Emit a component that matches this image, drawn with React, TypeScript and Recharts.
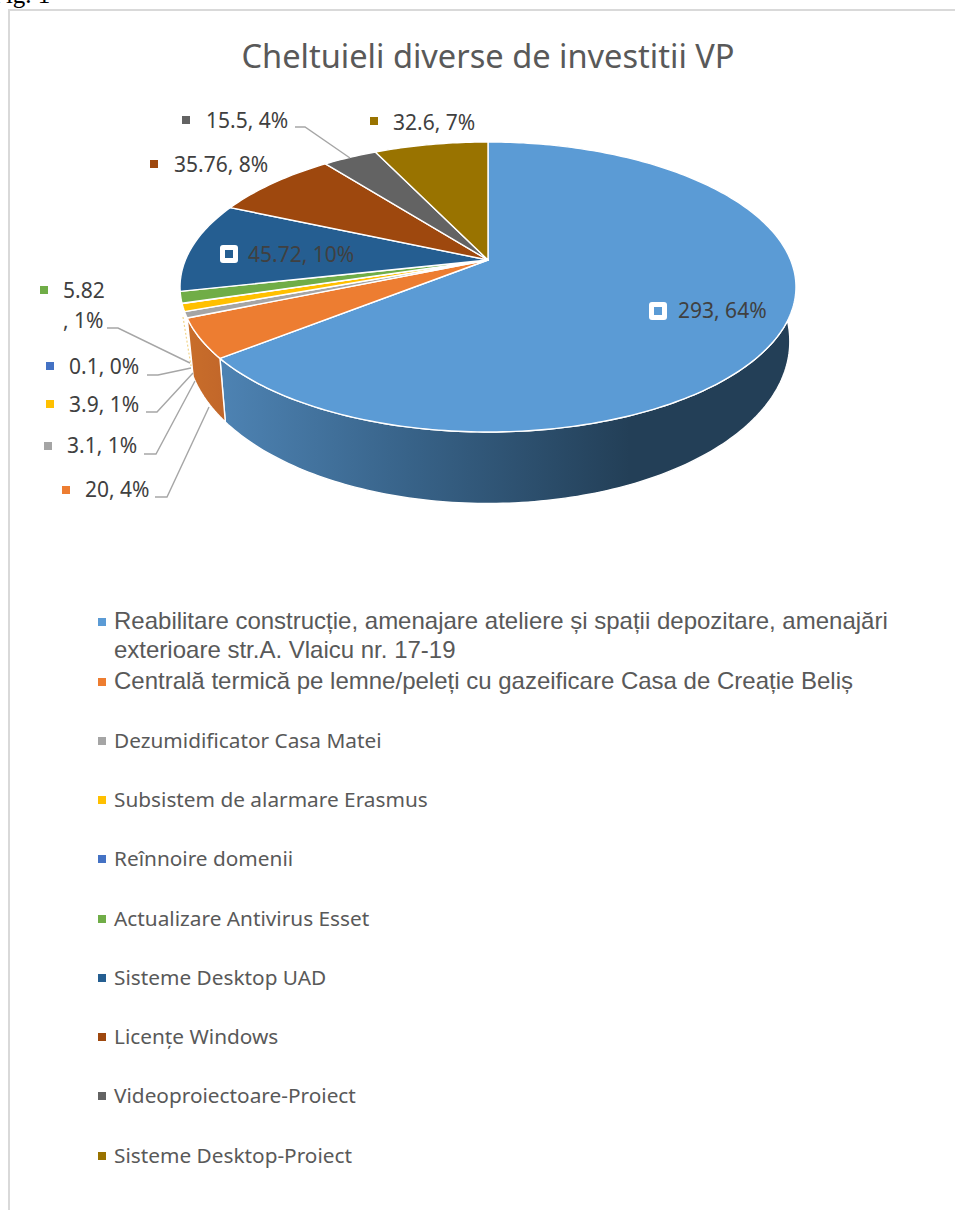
import { Legend, Pie, PieChart } from 'recharts';

const categories = [
  'Reabilitare construcție, amenajare ateliere și spații depozitare, amenajări exterioare str.A. Vlaicu nr. 17-19',
  'Centrală termică pe lemne/peleți cu gazeificare Casa de Creație Beliș',
  'Dezumidificator Casa Matei',
  'Subsistem de alarmare Erasmus',
  'Reînnoire domenii',
  'Actualizare Antivirus Esset',
  'Sisteme Desktop UAD',
  'Licențe Windows',
  'Videoproiectoare-Proiect',
  'Sisteme Desktop-Proiect',
];
const values = [293, 20, 3.1, 3.9, 0.1, 5.82, 45.72, 35.76, 15.5, 32.6];
const percentLabels = ['64%', '4%', '1%', '1%', '0%', '1%', '10%', '8%', '4%', '7%'];
const colors = ['#5B9BD5', '#ED7D31', '#A5A5A5', '#FFC000', '#4472C4', '#70AD47', '#255E91', '#9E480E', '#636363', '#997300'];
const wallFills = ['url(#wallBlue)', 'url(#wallOrange)', null, null, null, null, null, null, null, null];

const rows = categories.map((name, i) => ({
  name,
  value: values[i],
  fill: colors[i],
  wall: wallFills[i],
  pct: percentLabels[i],
  order: i,
}));

// where each data label sits: marker box, text start, baseline, leader line
const labelLayout = [
  { mx: 658, my: 311, tx: 678, ty: 318, boxed: true },
  { mx: 66, my: 490, tx: 85, ty: 497, leader: '155,497 167,497 209,407' },
  { mx: 48, my: 446, tx: 67, ty: 453, leader: '144,454 156,454 195,381' },
  { mx: 50, my: 404, tx: 69, ty: 412, leader: '146,412 157,412 193,373' },
  { mx: 50, my: 366, tx: 69, ty: 374, leader: '147,375 158,375 191,368' },
  { mx: 44, my: 290, tx: 63, ty: 298, leader: '107,328 118,328 190,363', wrap: 328 },
  { mx: 229, my: 254, tx: 248, ty: 262, boxed: true },
  { mx: 154, my: 164, tx: 174, ty: 172 },
  { mx: 186, my: 120, tx: 206, ty: 128, leader: '295,127 305,127 350,158' },
  { mx: 374, my: 121, tx: 393, ty: 130 },
];

const labelFont = '"Noto Sans", sans-serif';

// the tilted disc: turns an angle of the pie into a point on the page
const FAR = 140 / 302.6;
const TILT = 0.186;
function project(cx: number, cy: number, r: number, angle: number) {
  const t = ((90 - angle) * Math.PI) / 180;
  const X = Math.sin(t);
  const Y = Math.cos(t);
  const d = 1 + TILT * Y;
  return { x: cx + (r * X) / d, y: cy - (r * FAR * Y) / d, Y };
}

function arc(cx: number, cy: number, r: number, from: number, to: number) {
  const steps = Math.max(2, Math.ceil(Math.abs(from - to)));
  const pts = [];
  for (let i = 0; i <= steps; i++) pts.push(project(cx, cy, r, from + ((to - from) * i) / steps));
  return pts;
}

function TopSector(p: any) {
  const pts = arc(p.cx, p.cy, p.outerRadius, p.startAngle, p.endAngle);
  const d = `M${p.cx},${p.cy} ` + pts.map((q) => `L${q.x},${q.y}`).join(' ') + ' Z';
  return <path d={d} fill={p.fill} stroke="#fff" strokeWidth={1.4} strokeLinejoin="round" />;
}

function WallSector(p: any) {
  const top = arc(p.cx, p.cy, p.outerRadius, p.startAngle, p.endAngle);
  if (!p.wall) {
    if (p.order !== 3) return <g />;
    return (
      <line x1={183} y1={317} x2={191} y2={366} stroke="#F2D58A" strokeWidth={1.2} strokeDasharray="2 2" />
    );
  }
  const bottom = top
    .map((q) => ({
      x: p.cx + (q.x - p.cx) * 0.98,
      y: q.y + 50.5 - 21 * q.Y,
    }))
    .reverse();
  const d = [...top, ...bottom].map((q, i) => `${i ? 'L' : 'M'}${q.x},${q.y}`).join(' ') + ' Z';
  return <path d={d} fill={p.wall} stroke="#fff" strokeWidth={1.4} strokeLinejoin="round" />;
}

function DataLabel(p: any) {
  const row = p.payload ?? p;
  const at = labelLayout[row.order];
  const text = `${row.value}, ${row.pct}`;
  return (
    <g>
      {at.leader && <polyline points={at.leader} fill="none" stroke="#A6A6A6" strokeWidth={1.4} />}
      {at.boxed && <rect x={at.mx - 9} y={at.my - 9} width={18} height={18} rx={3} fill="#fff" />}
      <rect x={at.mx - 4} y={at.my - 4} width={8} height={8} fill={row.fill} />
      {at.wrap ? (
        <text fontFamily={labelFont} fontSize={21} fill="#404040">
          <tspan x={at.tx} y={at.ty}>{String(row.value)}</tspan>
          <tspan x={at.tx} y={at.wrap}>, {row.pct}</tspan>
        </text>
      ) : (
        <text x={at.tx} y={at.ty} fontFamily={labelFont} fontSize={21} fill="#404040">
          {text}
        </text>
      )}
    </g>
  );
}

const legendTops = [606, 666, 722, 781, 840, 900, 959, 1018, 1077, 1137];

function LegendList({ payload }: any) {
  // both Pie layers report their slices, only the first of each name is kept
  const items = (payload ?? []).filter(
    (item: any, i: number, all: any[]) => all.findIndex((o) => o.value === item.value) === i,
  );
  return (
    <div>
      {items.map((item: any, i: number) => (
        <div key={item.value}>
          <div
            style={{
              position: 'absolute',
              left: 98,
              top: legendTops[i] + (i < 2 ? 12 : 15),
              width: 8,
              height: 8,
              background: item.color,
            }}
          />
          <div
            style={{
              position: 'absolute',
              left: 114,
              top: legendTops[i],
              width: 800,
              fontFamily: i < 2 ? '"Liberation Sans", sans-serif' : labelFont,
              fontSize: i < 2 ? 24 : 20.8,
              lineHeight: i < 2 ? '29px' : '36px',
              color: '#595959',
              textAlign: 'left',
            }}
          >
            {item.value}
          </div>
        </div>
      ))}
    </div>
  );
}

export default function App() {
  return (
    <div style={{ position: 'absolute', left: 0, top: 0, width: 955, height: 1210, overflow: 'hidden', background: '#fff' }}>
      <div style={{ position: 'absolute', left: 8, top: 9, right: 0, bottom: 0, borderLeft: '2px solid #D9D9D9', borderTop: '2px solid #D9D9D9' }} />
      <div style={{ position: 'absolute', left: -8, top: -19, fontFamily: '"Liberation Serif", serif', fontSize: 25, lineHeight: '28px', color: '#000' }}>
        Fig. 1
      </div>
      <div style={{ position: 'absolute', left: 0, top: 0 }}>
        <PieChart width={955} height={1210} margin={{ top: 0, right: 0, bottom: 0, left: 0 }}>
          <defs>
            <linearGradient id="wallBlue" gradientUnits="userSpaceOnUse" x1={225} y1={0} x2={630} y2={0}>
              <stop offset="0" stopColor="#4D82B2" />
              <stop offset="0.45" stopColor="#386389" />
              <stop offset="1" stopColor="#233F57" />
            </linearGradient>
            <linearGradient id="wallOrange" gradientUnits="userSpaceOnUse" x1={190} y1={0} x2={228} y2={0}>
              <stop offset="0" stopColor="#C86D2A" />
              <stop offset="1" stopColor="#C1662A" />
            </linearGradient>
          </defs>
          <text x={488} y={68} textAnchor="middle" fontFamily={labelFont} fontSize={32.6} fill="#595959">
            Cheltuieli diverse de investitii VP
          </text>
          <Pie
            data={rows}
            dataKey="value"
            nameKey="name"
            cx={488}
            cy={260}
            outerRadius={302.6}
            startAngle={90}
            endAngle={-270}
            legendType="none"
            isAnimationActive={false}
            shape={WallSector}
          />
          <Pie
            data={rows}
            dataKey="value"
            nameKey="name"
            cx={488}
            cy={260}
            outerRadius={302.6}
            startAngle={90}
            endAngle={-270}
            isAnimationActive={false}
            shape={TopSector}
            labelLine={false}
            label={DataLabel}
          />
          <Legend
            content={LegendList}
            itemSorter={null}
            wrapperStyle={{ position: 'absolute', left: 0, top: 0, width: 955, height: 1210 }}
          />
        </PieChart>
      </div>
    </div>
  );
}
